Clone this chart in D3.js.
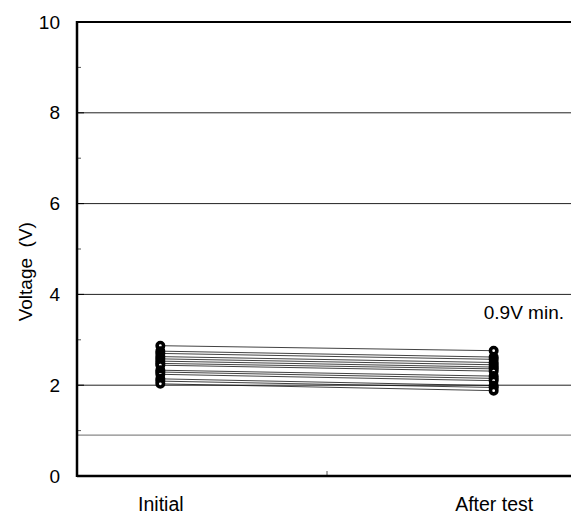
<!DOCTYPE html>
<html>
<head>
<meta charset="utf-8">
<script src="https://cdn.jsdelivr.net/npm/d3@7"></script>
<style>
  body { margin: 0; background: #fff; }
  text { font-family: "Liberation Sans", Arial, sans-serif; fill: #000; }
</style>
</head>
<body>
<div id="chart"></div>
<script>
// data
const categories = ["Initial", "After test"];
const initialValues = [2.87, 2.75, 2.70, 2.63, 2.58, 2.53, 2.48, 2.44, 2.33, 2.29, 2.24, 2.14, 2.09, 2.03];
const afterValues   = [2.76, 2.62, 2.57, 2.50, 2.45, 2.40, 2.36, 2.31, 2.20, 2.15, 2.10, 1.99, 1.95, 1.88];
const yTicks = [0, 2, 4, 6, 8, 10];
const yMinorTicks = [1, 3, 5, 7, 9];
const gridValues = [2, 4, 6, 8];
const limitValue = 0.9;
const limitLabel = "0.9V min.";

const width = 571, height = 514;
const margin = {top: 22, right: -6, bottom: 38, left: 77};
const innerW = width - margin.left - margin.right;
const innerH = height - margin.top - margin.bottom;

const svg = d3.select("#chart").append("svg")
    .attr("width", width)
    .attr("height", height);

const g = svg.append("g")
    .attr("transform", `translate(${margin.left},${margin.top})`);

const x = d3.scalePoint()
    .domain(categories)
    .range([0, innerW])
    .padding(0.25);

const y = d3.scaleLinear()
    .domain([0, 10])
    .range([innerH, 0]);

// gridlines
g.selectAll(".grid")
    .data(gridValues)
    .enter().append("line")
    .attr("x1", 0).attr("x2", innerW)
    .attr("y1", d => y(d)).attr("y2", d => y(d))
    .attr("stroke", "#222").attr("stroke-width", 1);

// 0.9V limit line
g.append("line")
    .attr("x1", 0).attr("x2", innerW)
    .attr("y1", y(limitValue)).attr("y2", y(limitValue))
    .attr("stroke", "#888").attr("stroke-width", 1.2);

g.append("text")
    .attr("x", 487)
    .attr("y", 297)
    .attr("text-anchor", "end")
    .attr("font-size", 19)
    .text(limitLabel);

// top border
g.append("line")
    .attr("x1", 0).attr("x2", innerW)
    .attr("y1", 0).attr("y2", 0)
    .attr("stroke", "#000").attr("stroke-width", 2);

// y axis
const yAxis = g.append("g")
    .call(d3.axisLeft(y).tickValues(yTicks).tickSize(0).tickPadding(17));
yAxis.select(".domain").remove();
yAxis.selectAll("text")
    .attr("font-size", 19)
    .style("font-family", "Liberation Sans, Arial, sans-serif");

g.selectAll(".minor")
    .data(yMinorTicks)
    .enter().append("line")
    .attr("x1", 0).attr("x2", 4)
    .attr("y1", d => y(d)).attr("y2", d => y(d))
    .attr("stroke", "#555").attr("stroke-width", 1);

g.selectAll(".major")
    .data(gridValues)
    .enter().append("line")
    .attr("x1", 0).attr("x2", 7)
    .attr("y1", d => y(d)).attr("y2", d => y(d))
    .attr("stroke", "#000").attr("stroke-width", 1);

// x axis labels
const xAxis = g.append("g")
    .attr("transform", `translate(0,${innerH})`)
    .call(d3.axisBottom(x).tickSize(0).tickPadding(21));
xAxis.select(".domain").remove();
xAxis.selectAll("text")
    .attr("font-size", 19.5)
    .style("font-family", "Liberation Sans, Arial, sans-serif");

// middle tick between categories
g.append("line")
    .attr("x1", innerW / 2).attr("x2", innerW / 2)
    .attr("y1", innerH).attr("y2", innerH - 5)
    .attr("stroke", "#555").attr("stroke-width", 1);

// axis lines
g.append("line")
    .attr("x1", 0).attr("x2", 0)
    .attr("y1", -1).attr("y2", innerH + 1)
    .attr("stroke", "#000").attr("stroke-width", 2.5);
g.append("line")
    .attr("x1", 0).attr("x2", innerW)
    .attr("y1", innerH).attr("y2", innerH)
    .attr("stroke", "#000").attr("stroke-width", 2.5);

// y label
svg.append("text")
    .attr("transform", `translate(32,${margin.top + y(4.5)}) rotate(-90)`)
    .attr("text-anchor", "middle")
    .attr("font-size", 19)
    .style("white-space", "pre")
    .text("Voltage  (V)");

// sample lines
const pairs = initialValues.map((v, i) => [v, afterValues[i]]);

g.selectAll(".sample")
    .data(pairs)
    .enter().append("line")
    .attr("x1", x(categories[0])).attr("x2", x(categories[1]))
    .attr("y1", d => y(d[0])).attr("y2", d => y(d[1]))
    .attr("stroke", "#111").attr("stroke-width", 0.8);

// markers
categories.forEach((c, ci) => {
    const vals = ci === 0 ? initialValues : afterValues;
    g.selectAll(".pt" + ci)
        .data(vals)
        .enter().append("circle")
        .attr("cx", x(c))
        .attr("cy", d => y(d))
        .attr("r", 3.2)
        .attr("fill", "#fff")
        .attr("stroke", "#000")
        .attr("stroke-width", 3.6);
});
</script>
</body>
</html>
